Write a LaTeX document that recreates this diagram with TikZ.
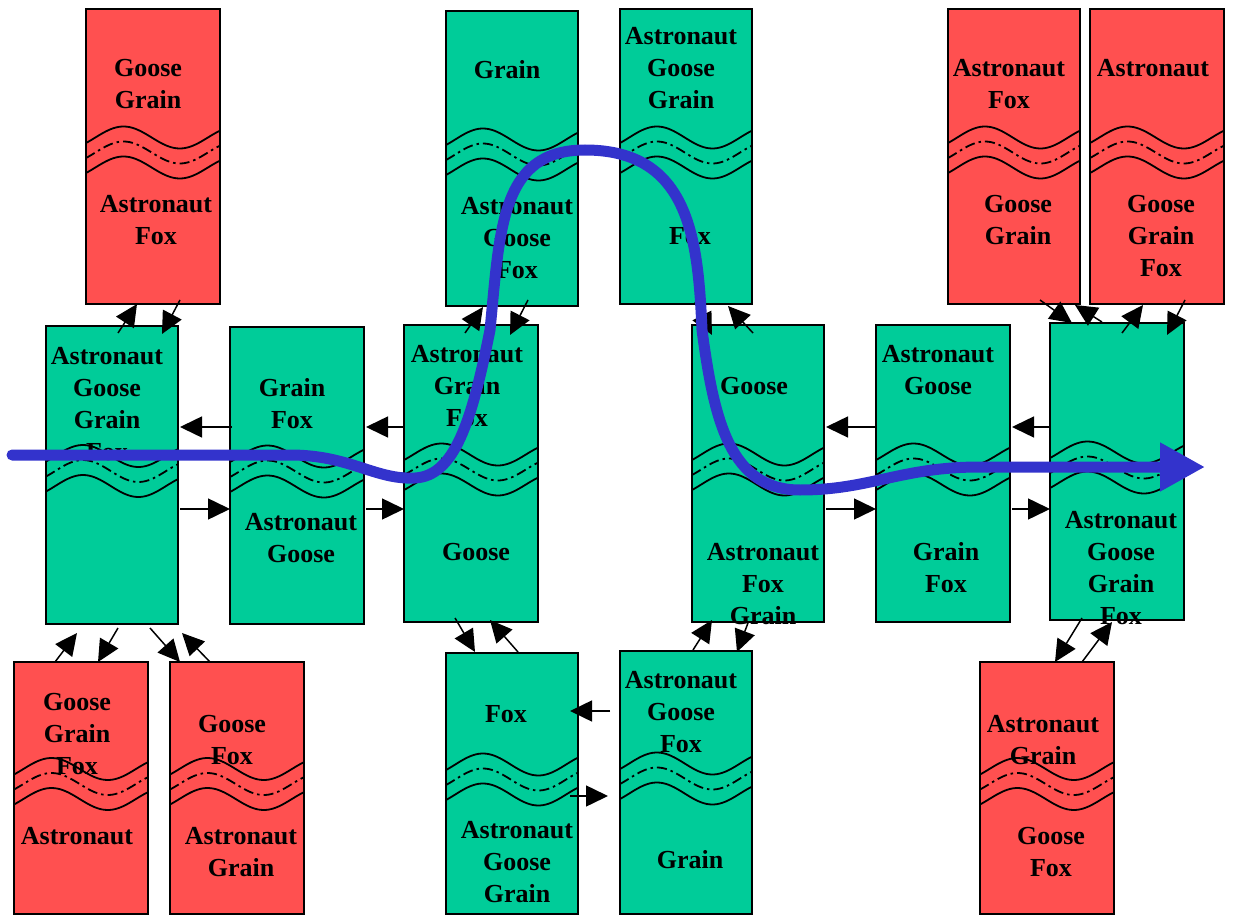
\documentclass[tikz,border=0pt]{standalone}
\usepackage{fontspec}
\setmainfont{Liberation Serif}
\usetikzlibrary{arrows.meta}
\definecolor{sred}{HTML}{FF5050}
\definecolor{sgreen}{HTML}{00CC99}
\definecolor{sblue}{HTML}{3333CC}
\newcommand\riverwave[3]{%
  \foreach \off/\sty in {-15/wavesolid,0/wavedash,15/wavesolid}{%
    \draw[\sty] plot[domain=0:1,samples=50,smooth] ({#1+\x*(#2-#1)},{#3+\off-11*sin(90+360*(\x-0.28)/0.84)});
  }}
\begin{document}
\begin{tikzpicture}[x=1pt,y=-1pt,
  box/.style={draw=black, line width=1.6pt, inner sep=0pt, outer sep=0pt, anchor=north west},
  redbox/.style={box, fill=sred},
  greenbox/.style={box, fill=sgreen},
  lbl/.style={font=\fontsize{26}{32}\selectfont\bfseries, align=center, inner sep=0pt},
  wavesolid/.style={line width=1.8pt},
  wavedash/.style={line width=1.8pt, dash pattern=on 10pt off 4pt on 2.5pt off 4pt},
  arr/.style={line width=1.5pt, -{Triangle[length=22pt,width=21pt]}},
  bluepath/.style={draw=sblue, line width=11pt, line cap=round, -{Triangle[length=45pt,width=46pt]}}]
\useasboundingbox (0,0) rectangle (1234,917);

% boxes
\node[redbox,   minimum width=134pt, minimum height=295pt] (r1) at (86,9) {};
\node[greenbox, minimum width=132pt, minimum height=295pt] (t1) at (446,11) {};
\node[greenbox, minimum width=132pt, minimum height=295pt] (t2) at (620,9) {};
\node[redbox,   minimum width=132pt, minimum height=295pt] (t3) at (948,9) {};
\node[redbox,   minimum width=134pt, minimum height=295pt] (t4) at (1090,9) {};
\node[greenbox, minimum width=132pt, minimum height=298pt] (m1) at (46,326) {};
\node[greenbox, minimum width=134pt, minimum height=297pt] (m2) at (230,327) {};
\node[greenbox, minimum width=134pt, minimum height=297pt] (m3) at (404,325) {};
\node[greenbox, minimum width=132pt, minimum height=297pt] (m4) at (692,325) {};
\node[greenbox, minimum width=134pt, minimum height=297pt] (m5) at (876,325) {};
\node[greenbox, minimum width=134pt, minimum height=297pt] (m6) at (1050,323) {};
\node[redbox,   minimum width=134pt, minimum height=252pt] (b1) at (14,662) {};
\node[redbox,   minimum width=134pt, minimum height=252pt] (b2) at (170,662) {};
\node[greenbox, minimum width=132pt, minimum height=261pt] (b3) at (446,653) {};
\node[greenbox, minimum width=132pt, minimum height=263pt] (b4) at (620,651) {};
\node[redbox,   minimum width=134pt, minimum height=252pt] (b5) at (980,662) {};

% rivers
\riverwave{86}{220}{152.5}
\riverwave{446}{578}{154.5}
\riverwave{620}{752}{152.5}
\riverwave{948}{1080}{152.5}
\riverwave{1090}{1224}{152.5}
\riverwave{46}{178}{471}
\riverwave{230}{364}{471.5}
\riverwave{404}{538}{469.5}
\riverwave{692}{824}{469.5}
\riverwave{876}{1010}{469.5}
\riverwave{1050}{1184}{467.5}
\riverwave{14}{148}{784}
\riverwave{170}{304}{784}
\riverwave{446}{578}{779.5}
\riverwave{620}{752}{778.5}
\riverwave{980}{1114}{784}

% labels
\node[lbl] (r1u) at (148,84) {Goose\\Grain};
\node[lbl] (r1l) at (156,220) {Astronaut\\Fox};
\node[lbl] (t1u) at (507,70) {Grain};
\node[lbl] (t1l) at (517,238) {Astronaut\\Goose\\Fox};
\node[lbl] (t2u) at (681,68) {Astronaut\\Goose\\Grain};
\node[lbl] (t2l) at (690,236) {Fox};
\node[lbl] (t3u) at (1009,84) {Astronaut\\Fox};
\node[lbl] (t3l) at (1018,220) {Goose\\Grain};
\node[lbl] (t4u) at (1153,68) {Astronaut};
\node[lbl] (t4l) at (1161,236) {Goose\\Grain\\Fox};
\node[lbl] (m1u) at (107,404) {Astronaut\\Goose\\Grain\\Fox};
\node[lbl] (m2u) at (292,404) {Grain\\Fox};
\node[lbl] (m2l) at (301,538) {Astronaut\\Goose};
\node[lbl] (m3u) at (467,386) {Astronaut\\Grain\\Fox};
\node[lbl] (m3l) at (476,552) {Goose};
\node[lbl] (m4u) at (754,386) {Goose};
\node[lbl] (m4l) at (763,584) {Astronaut\\Fox\\Grain};
\node[lbl] (m5u) at (938,370) {Astronaut\\Goose};
\node[lbl] (m5l) at (946,568) {Grain\\Fox};
\node[lbl] (m6l) at (1121,568) {Astronaut\\Goose\\Grain\\Fox};
\node[lbl] (b1u) at (77,734) {Goose\\Grain\\Fox};
\node[lbl] (b1l) at (77,836) {Astronaut};
\node[lbl] (b2u) at (232,740) {Goose\\Fox};
\node[lbl] (b2l) at (241,852) {Astronaut\\Grain};
\node[lbl] (b3u) at (506,714) {Fox};
\node[lbl] (b3l) at (517,862) {Astronaut\\Goose\\Grain};
\node[lbl] (b4u) at (681,712) {Astronaut\\Goose\\Fox};
\node[lbl] (b4l) at (690,860) {Grain};
\node[lbl] (b5u) at (1043,740) {Astronaut\\Grain};
\node[lbl] (b5l) at (1051,852) {Goose\\Fox};

% transitions
\draw[arr] ([shift={(118-46,333-326)}]m1.north west) -- ([shift={(137-86,304-9)}]r1.north west);
\draw[arr] ([shift={(180-86,300-9)}]r1.north west) -- ([shift={(162-46,334-326)}]m1.north west);
\draw[arr] ([shift={(55-14,662-662)}]b1.north west) -- ([shift={(77-46,633-326)}]m1.north west);
\draw[arr] ([shift={(118-46,628-326)}]m1.north west) -- ([shift={(98-14,662-662)}]b1.north west);
\draw[arr] ([shift={(150-46,628-326)}]m1.north west) -- ([shift={(180-170,662-662)}]b2.north west);
\draw[arr] ([shift={(210-170,662-662)}]b2.north west) -- ([shift={(182-46,633-326)}]m1.north west);
\draw[arr] ([shift={(232-230,427-327)}]m2.north west) -- ([shift={(180-46,427-326)}]m1.north west);
\draw[arr] ([shift={(180-46,509-326)}]m1.north west) -- ([shift={(230-230,509-327)}]m2.north west);
\draw[arr] ([shift={(404-404,427-325)}]m3.north west) -- ([shift={(366-230,427-327)}]m2.north west);
\draw[arr] ([shift={(366-230,509-327)}]m2.north west) -- ([shift={(404-404,509-325)}]m3.north west);
\draw[arr] ([shift={(465-404,333-325)}]m3.north west) -- ([shift={(483-446,307-11)}]t1.north west);
\draw[arr] ([shift={(528-446,300-11)}]t1.north west) -- ([shift={(510-404,335-325)}]m3.north west);
\draw[arr] ([shift={(455-404,618-325)}]m3.north west) -- ([shift={(475-446,652-653)}]b3.north west);
\draw[arr] ([shift={(518-446,652-653)}]b3.north west) -- ([shift={(490-404,620-325)}]m3.north west);
\draw[arr] ([shift={(695-620,302-9)}]t2.north west) -- ([shift={(712-692,335-325)}]m4.north west);
\draw[arr] ([shift={(753-692,333-325)}]m4.north west) -- ([shift={(728-620,306-9)}]t2.north west);
\draw[arr] ([shift={(693-620,650-651)}]b4.north west) -- ([shift={(712-692,620-325)}]m4.north west);
\draw[arr] ([shift={(748-692,623-325)}]m4.north west) -- ([shift={(737-620,652-651)}]b4.north west);
\draw[arr] ([shift={(876-876,427-325)}]m5.north west) -- ([shift={(826-692,427-325)}]m4.north west);
\draw[arr] ([shift={(826-692,509-325)}]m4.north west) -- ([shift={(876-876,509-325)}]m5.north west);
\draw[arr] ([shift={(1050-1050,427-323)}]m6.north west) -- ([shift={(1012-876,427-325)}]m5.north west);
\draw[arr] ([shift={(1012-876,509-325)}]m5.north west) -- ([shift={(1050-1050,509-323)}]m6.north west);
\draw[arr] ([shift={(1040-948,300-9)}]t3.north west) -- ([shift={(1072-1050,323-323)}]m6.north west);
\draw[arr] ([shift={(1102-1050,322-323)}]m6.north west) -- ([shift={(1075-948,305-9)}]t3.north west);
\draw[arr] ([shift={(1122-1050,333-323)}]m6.north west) -- ([shift={(1143-1090,305-9)}]t4.north west);
\draw[arr] ([shift={(1185-1090,300-9)}]t4.north west) -- ([shift={(1167-1050,335-323)}]m6.north west);
\draw[arr] ([shift={(1082-1050,618-323)}]m6.north west) -- ([shift={(1055-980,662-662)}]b5.north west);
\draw[arr] ([shift={(1082-980,662-662)}]b5.north west) -- ([shift={(1112-1050,622-323)}]m6.north west);
\draw[arr] ([shift={(610-620,711-651)}]b4.north west) -- ([shift={(570-446,711-653)}]b3.north west);
\draw[arr] ([shift={(570-446,796-653)}]b3.north west) -- ([shift={(608-620,796-651)}]b4.north west);

% solution path
\coordinate (pstart) at (12,455);
\coordinate (pend) at (1205,467);
\draw[bluepath] (pstart) -- (290,455)
  .. controls (350,455) and (375,480) .. (415,478)
  .. controls (455,476) and (472,420) .. (490,330)
  .. controls (500,230) and (500,150) .. (585,150)
  .. controls (690,150) and (698,240) .. (702,330)
  .. controls (714,420) and (730,490) .. (800,490)
  .. controls (870,490) and (900,467) .. (980,467)
  -- (pend);
\end{tikzpicture}
\end{document}
